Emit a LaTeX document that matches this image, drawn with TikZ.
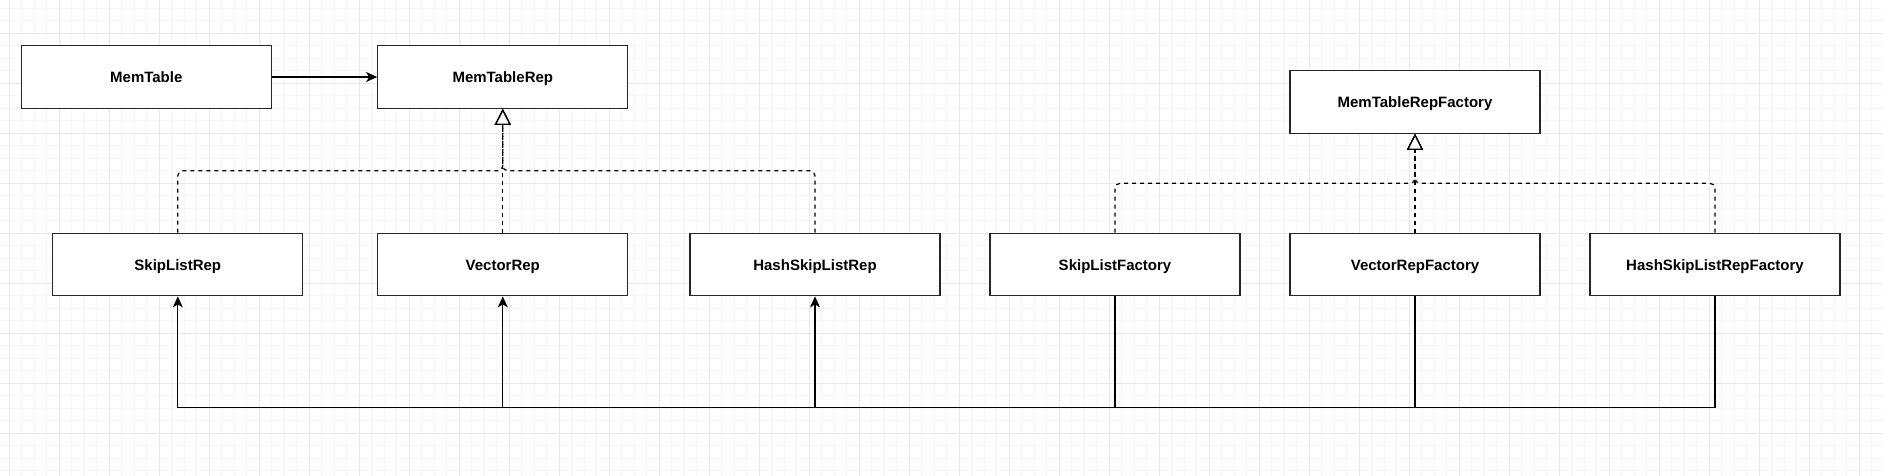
\documentclass[tikz,border=0pt]{standalone}
\usepackage{fontspec}
\setmainfont{Liberation Sans}
\usetikzlibrary{arrows.meta}
\begin{document}
\begin{tikzpicture}[x=1pt,y=-1pt,
  box/.style={draw=black!85, line width=1.3pt, fill=white, minimum width=250pt,
    minimum height=62.5pt, inner sep=0pt, text height=13pt, text depth=1pt,
    font=\fontsize{15}{18}\selectfont\bfseries},
  dep/.style={line width=1.2pt, dash pattern=on 4pt off 4pt, rounded corners=5pt,
    -{Triangle[open, length=16pt, width=16pt, line width=1.3pt, fill=white]}},
  assoc/.style={line width=1.1pt, -{Stealth[length=11pt, width=10pt, inset=3pt]}},
  minorgrid/.style={line width=1pt, draw=gray!7},
  majorgrid/.style={line width=1pt, draw=gray!18}]
\useasboundingbox (0,0) rectangle (1883,476);
\fill[white] (0,0) rectangle (1883,476);
% grid
\foreach \i in {0,...,150} {
  \pgfmathsetmacro{\xx}{9.3+12.5*\i}
  \draw[minorgrid] (\xx,0) -- (\xx,476);
}
\foreach \i in {-1,...,38} {
  \pgfmathsetmacro{\yy}{8.3+12.5*\i}
  \draw[minorgrid] (0,\yy) -- (1883,\yy);
}
\foreach \i in {0,...,37} {
  \pgfmathsetmacro{\xx}{9.3+50*\i}
  \draw[majorgrid] (\xx,0) -- (\xx,476);
}
\foreach \i in {0,...,9} {
  \pgfmathsetmacro{\yy}{33.3+50*\i}
  \draw[majorgrid] (0,\yy) -- (1883,\yy);
}
% nodes
\node[box] (mt) at (146.3,77) {MemTable};
\node[box] (mtr) at (502.8,77) {MemTableRep};
\node[box] (mtrf) at (1415,102) {MemTableRepFactory};
\node[box] (slr) at (177.8,264.5) {SkipListRep};
\node[box] (vr) at (502.8,264.5) {VectorRep};
\node[box] (hslr) at (815,264.5) {HashSkipListRep};
\node[box] (slf) at (1115,264.5) {SkipListFactory};
\node[box] (vrf) at (1415,264.5) {VectorRepFactory};
\node[box] (hslrf) at (1715,264.5) {HashSkipListRepFactory};
% junction coordinates
\coordinate (jl) at (502.8,170.8);
\coordinate (jr) at (1415,183.3);
\coordinate (bot) at (0,407.7);
% association
\draw[assoc] (mt.east) -- (mtr.west);
% realization (left)
\draw[dep] (slr.north) |- (jl) -- (mtr.south);
\draw[dep] (hslr.north) |- (jl) -- (mtr.south);
\draw[dep] (vr.north) -- (mtr.south);
% realization (right)
\draw[dep] (slf.north) |- (jr) -- (mtrf.south);
\draw[dep] (hslrf.north) |- (jr) -- (mtrf.south);
\draw[dep] (vrf.north) -- (mtrf.south);
% factory -> rep
\draw[assoc] (slf.south) -- (slf.south |- bot) -| (slr.south);
\draw[assoc] (vrf.south) -- (vrf.south |- bot) -| (vr.south);
\draw[assoc] (hslrf.south) -- (hslrf.south |- bot) -| (hslr.south);
\end{tikzpicture}
\end{document}
